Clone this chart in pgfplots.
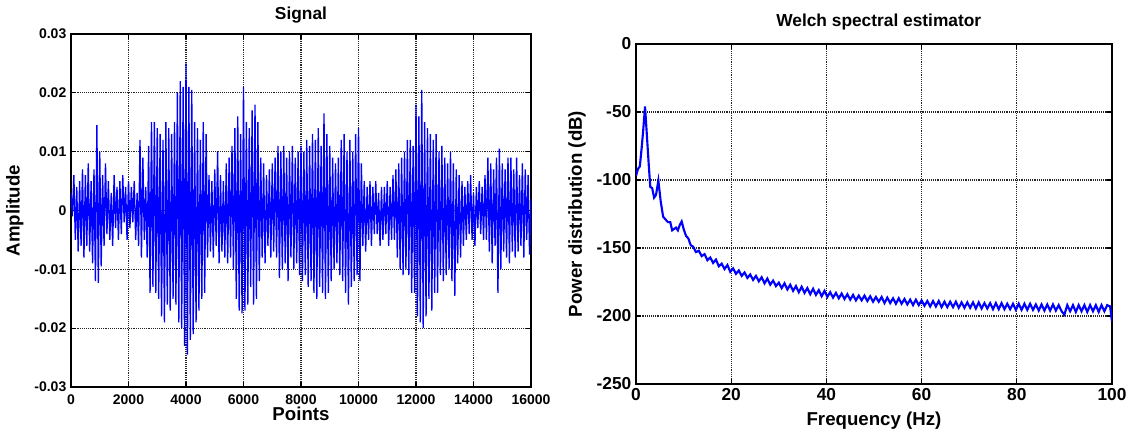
\documentclass[border=0pt]{standalone}
\usepackage{pgfplots}
\pgfplotsset{compat=1.18}
\usepackage{pgfplotstable}
\usepackage{fontspec}
\setmainfont{Liberation Sans}
\definecolor{sigblue}{RGB}{0,0,255}

% signal amplitude in units of 0.001, one value every 50 points
\pgfplotstableread[row sep=\\]{
y\\
3\\ -1\\ 6\\ -5\\ 4\\ -7\\ 5\\ -6\\ 7\\ -8\\ 6\\ -6\\ 8\\ -7\\ 5\\ -9\\ 7\\ -12\\ 14.5\\ -12.3\\
10\\ -9.5\\ 6\\ -6\\ 8\\ -4\\ 5\\ -5\\ 3\\ -6\\ 6\\ -3\\ 4\\ -5\\ 5\\ -4\\ 6\\ -2\\ 4\\ -5\\
5\\ -3\\ 4\\ -2\\ 5\\ -5\\ 3\\ -6\\ 12\\ -8\\ 9\\ -5\\ 4\\ -8\\ 11\\ -14\\ 15\\ -13\\ 15\\ -14\\
14\\ -15\\ 13\\ -18\\ 12\\ -19\\ 15\\ -16\\ 14\\ -17\\ 13\\ -15\\ 15\\ -16\\ 20\\ -19\\ 22\\ -20\\ 21\\ -23\\
25\\ -24.5\\ 21\\ -22\\ 20.5\\ -21\\ 15\\ -19\\ 14\\ -17\\ 12\\ -15\\ 15\\ -14\\ 13\\ -8\\ 6\\ -7\\ 5\\ -8\\
7\\ -6\\ 10\\ -9\\ 6\\ -7\\ 5\\ -8\\ 8\\ -9\\ 9\\ -8\\ 11\\ -10\\ 14\\ -15\\ 16\\ -17\\ 13\\ -17.5\\
21\\ -17\\ 15\\ -16\\ 14\\ -13\\ 17\\ -16\\ 18\\ -15\\ 15\\ -12\\ 9\\ -8\\ 8\\ -9\\ 6\\ -6\\ 7\\ -8\\
8\\ -7\\ 9\\ -8\\ 11\\ -11.5\\ 10\\ -10\\ 11\\ -9\\ 9\\ -12\\ 10\\ -8\\ 11\\ -10\\ 9\\ -9\\ 10\\ -11\\
11\\ -12\\ 10\\ -11\\ 12\\ -13\\ 11\\ -12\\ 13\\ -14\\ 12\\ -15\\ 14\\ -13\\ 11\\ -14\\ 16.5\\ -15\\ 13\\ -14\\
11\\ -12\\ 9\\ -10\\ 8\\ -9\\ 9\\ -11\\ 12\\ -12\\ 13\\ -14\\ 10\\ -16\\ 12\\ -13\\ 10\\ -12\\ 13\\ -11\\
14\\ -12\\ 8\\ -6\\ 5\\ -7\\ 4\\ -5\\ 5\\ -6\\ 4\\ -4\\ 5\\ -4\\ 3\\ -6\\ 4\\ -5\\ 4\\ -4\\
5\\ -6\\ 4\\ -5\\ 6\\ -5\\ 7\\ -8\\ 8\\ -10\\ 9\\ -11\\ 10\\ -10\\ 12\\ -11\\ 12\\ -14\\ 11\\ -14\\
18\\ -18\\ 16\\ -19\\ 20.5\\ -20\\ 15\\ -18\\ 14\\ -15\\ 13\\ -17\\ 12\\ -14\\ 13\\ -14\\ 10\\ -11\\ 11\\ -12\\
9\\ -11\\ 8\\ -10\\ 10\\ -12\\ 8\\ -14.5\\ 7\\ -9\\ 6\\ -8\\ 5\\ -6\\ 4\\ -5\\ 5\\ -4\\ 6\\ -5\\
3\\ -6\\ 4\\ -3\\ 5\\ -4\\ 4\\ -5\\ 6\\ -5\\ 9\\ -7\\ 8\\ -9\\ 7\\ -6\\ 9\\ -14\\ 10.5\\ -10\\
8\\ -7\\ 7\\ -8\\ 9\\ -9\\ 9\\ -7\\ 7\\ -8\\ 9\\ -7\\ 6\\ -6\\ 8\\ -8\\ 7\\ -5\\ 6\\ -7.5\\
2\\
}\sig

\pgfplotstableread{
f p
0 -97
0.4 -92
0.8 -90
1.2 -76
1.5 -64
1.9 -46
2.3 -68
2.7 -90
3.0 -105
3.4 -106
3.8 -113
4.2 -111
4.7 -100.5
5.2 -116
5.7 -127
6.2 -129
6.7 -131
7.2 -131
7.6 -137
8.0 -136
8.4 -135
8.8 -137
9.2 -133
9.6 -130.5
10.0 -136
10.5 -141
11.0 -143
11.5 -148
12.0 -149
12.6 -153
13.2 -152
13.8 -156
14.4 -154.5
15.0 -159
15.6 -157
16.2 -161
16.8 -158.5
17.4 -163.5
18.0 -161.5
18.6 -165.5
19.2 -162.5
19.8 -167.5
20.4 -165
21.0 -169
21.6 -166.5
22.2 -170.5
22.8 -168
23.4 -172
24.0 -169.5
24.6 -173.5
25.2 -170.5
25.8 -174.5
26.4 -171.5
27.0 -176
27.6 -172.5
28.2 -177
28.8 -174
29.4 -178
30.0 -175.5
30.6 -179.5
31.2 -176
31.8 -180.5
32.4 -177
33.0 -181.5
33.6 -178
34.2 -182.5
34.8 -178.5
35.4 -183
36.0 -179.5
36.6 -184
37.2 -180
37.8 -184.5
38.4 -181
39.0 -185.5
39.6 -181.5
40.2 -186
40.8 -182.5
41.4 -186.5
42.0 -183
42.6 -187
43.2 -183.5
43.8 -187.5
44.4 -184
45.0 -188
45.6 -184.5
46.2 -188.5
46.8 -185
47.4 -188.5
48.0 -185
48.6 -189
49.2 -185.5
49.8 -189.5
50.4 -186
51.0 -189.5
51.6 -186
52.2 -190.5
52.8 -186.5
53.4 -190.5
54.0 -187
54.6 -191
55.2 -187
55.8 -191
56.4 -187.5
57.0 -191.5
57.6 -188
58.2 -192
58.8 -188
59.4 -192
60.0 -188.5
60.6 -192.5
61.2 -189
61.8 -193
62.4 -189
63.0 -193
63.6 -189
64.2 -193.5
64.8 -189.5
65.4 -193.5
66.0 -189.5
66.6 -193.5
67.2 -189.5
67.8 -194
68.4 -190
69.0 -194
69.6 -190
70.2 -194
70.8 -190
71.4 -194.5
72.0 -190
72.6 -194.5
73.2 -190.5
73.8 -194.5
74.4 -190.5
75.0 -195
75.6 -190.5
76.2 -195
76.8 -190.5
77.4 -195
78.0 -191
78.6 -195
79.2 -191
79.8 -195.5
80.4 -191
81.0 -195.5
81.6 -191
82.2 -195.5
82.8 -191
83.4 -195.5
84.0 -191.5
84.6 -196
85.2 -191.5
85.8 -196
86.4 -191.5
87.0 -196
87.6 -191.5
88.2 -196
88.8 -192
89.4 -196.5
90.0 -199
90.6 -192
91.2 -196.5
91.8 -192
92.4 -197
93.0 -192
93.6 -196.5
94.2 -192
94.8 -197
95.4 -192
96.0 -196.5
96.6 -192
97.2 -197
97.8 -192
98.4 -196.5
99.0 -192
99.6 -193
100.0 -204
}\welch

\pgfplotsset{mat/.style={
  scale only axis,
  tick align=inside,
  axis line style={black, line width=1pt},
  major tick length=4pt,
  tick style={black, line width=0.8pt},
  grid=major,
  major grid style={black!85, densely dotted, line width=0.8pt},
  scaled x ticks=false, scaled y ticks=false,
  every axis title shift=0pt,
  /pgf/number format/assume math mode=true,
  label style={font=\bfseries\fontsize{14}{16}\selectfont},
  title style={font=\bfseries\fontsize{13}{15}\selectfont},
}}

\begin{document}
\begin{tikzpicture}
\useasboundingbox (0,0) rectangle (851.25pt,328.5pt);
\begin{axis}[mat,
  at={(53.25pt,38.25pt)}, anchor=south west,
  width=345pt, height=264.75pt,
  xmin=0, xmax=16000, ymin=-30, ymax=30,
  xtick={0,2000,...,16000},
  xticklabels={0,2000,4000,6000,8000,10000,12000,14000,16000},
  ytick={-30,-20,...,30},
  yticklabels={-0.03,-0.02,-0.01,0,0.01,0.02,0.03},
  ticklabel style={font=\bfseries\fontsize{10.5}{12}\selectfont},
  xticklabel style={yshift=-2pt},
  title={Signal},
  title style={at={(axis description cs:0.5,1.055)}, anchor=center},
  xlabel={Points},
  xlabel style={at={(axis description cs:0.5,-0.075)}, anchor=center},
  ylabel={Amplitude},
  ylabel style={at={(axis description cs:-0.122,0.5)}, anchor=center},
]
\addplot[sigblue, line width=1pt] table[x expr=\coordindex*50, y=y] {\sig};
\end{axis}

\begin{axis}[mat,
  at={(477pt,40.5pt)}, anchor=south west,
  width=357pt, height=255pt,
  xmin=0, xmax=100, ymin=-250, ymax=0,
  xtick={0,20,...,100},
  xticklabels={0,20,40,60,80,100},
  ytick={-250,-200,...,0},
  yticklabels={-250,-200,-150,-100,-50,0},
  ticklabel style={font=\bfseries\fontsize{13}{15}\selectfont},
  title={Welch spectral estimator},
  title style={at={(axis description cs:0.51,1.065)}, anchor=center},
  xlabel={Frequency (Hz)},
  xlabel style={at={(axis description cs:0.5,-0.109)}, anchor=center},
  ylabel={Power distribution (dB)},
  ylabel style={at={(axis description cs:-0.124,0.5)}, anchor=center},
]
\addplot[sigblue, line width=1.6pt] table[x=f, y=p] {\welch};
\end{axis}
\end{tikzpicture}
\end{document}
